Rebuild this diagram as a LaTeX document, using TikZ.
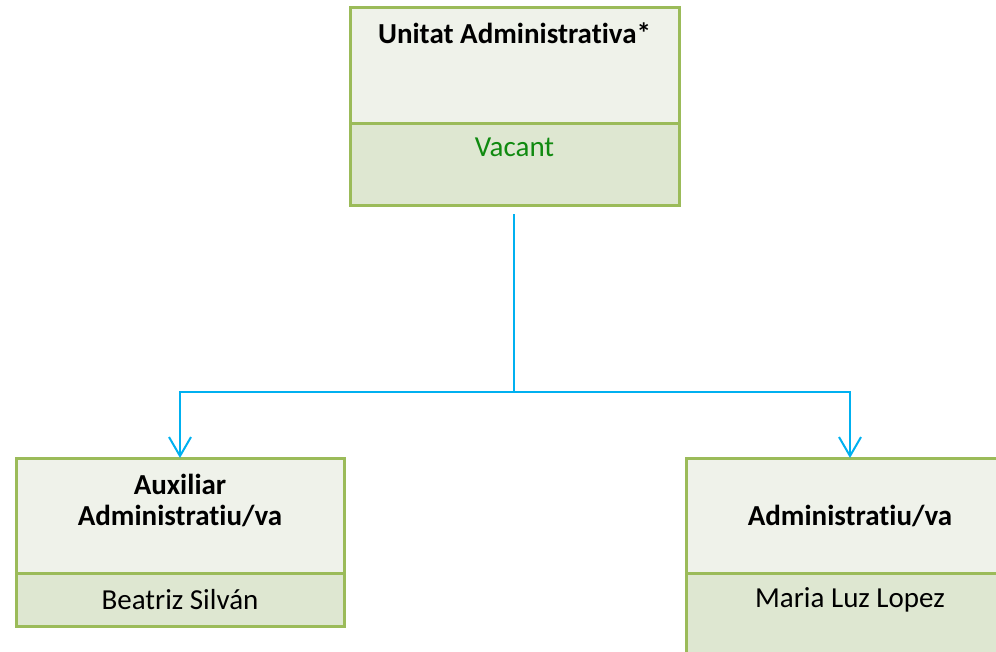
\documentclass[tikz,border=0pt]{standalone}
\usepackage{fontspec}
\setmainfont[RawFeature={-liga;-clig}]{Carlito}
\usetikzlibrary{arrows.meta}
\definecolor{boxline}{HTML}{9BBB59}
\definecolor{upfill}{HTML}{EFF2EA}
\definecolor{lowfill}{HTML}{DEE7D1}
\definecolor{conncol}{HTML}{00B0F0}
\definecolor{vacantcol}{HTML}{108A10}
\tikzset{
  boxpart/.style={draw=boxline, line width=3pt, rectangle, inner sep=0pt, outer sep=0pt},
  upperbox/.style={boxpart, fill=upfill},
  lowerbox/.style={boxpart, fill=lowfill},
  roletext/.style={font=\fontsize{29}{31}\selectfont\bfseries, align=center, inner sep=0pt},
  persontext/.style={font=\fontsize{29}{31}\selectfont, inner sep=0pt},
  conn/.style={draw=conncol, line width=2pt, -{Straight Barb[length=19pt,width=22pt,line width=2pt]}},
}
\begin{document}
\begin{tikzpicture}[x=1pt,y=-1pt]
\useasboundingbox (0,0) rectangle (996,651);
% top box
\node[upperbox, minimum width=329pt, minimum height=116pt] (topU) at (514.5,65) {};
\node[lowerbox, minimum width=329pt, minimum height=82pt] (topL) at (514.5,164) {};
\node[roletext] (topT) at (514.5,33) {Unitat Administrativa*};
\node[persontext, text=vacantcol] (topN) at (514.5,147) {Vacant};
% left box
\node[upperbox, minimum width=328pt, minimum height=115pt] (leftU) at (180,515.5) {};
\node[lowerbox, minimum width=328pt, minimum height=53pt] (leftL) at (180,599.5) {};
\node[roletext] (leftT) at (180,500.5) {Auxiliar\\Administratiu/va};
\node[persontext] (leftN) at (180,600) {Beatriz Silván};
% right box
\node[upperbox, minimum width=328pt, minimum height=115pt] (rightU) at (850,515.5) {};
\node[lowerbox, minimum width=328pt, minimum height=82pt] (rightL) at (850,614) {};
\node[roletext] (rightT) at (850,516) {Administratiu/va};
\node[persontext] (rightN) at (850,600) {Maria Luz Lopez};
% connectors
\coordinate (src) at (514,214);
\coordinate (junc) at (514,392);
\draw[draw=conncol, line width=2pt] (src) -- (junc);
\draw[conn] (junc) -| (leftU.north);
\draw[conn] (junc) -| (rightU.north);
\end{tikzpicture}
\end{document}
